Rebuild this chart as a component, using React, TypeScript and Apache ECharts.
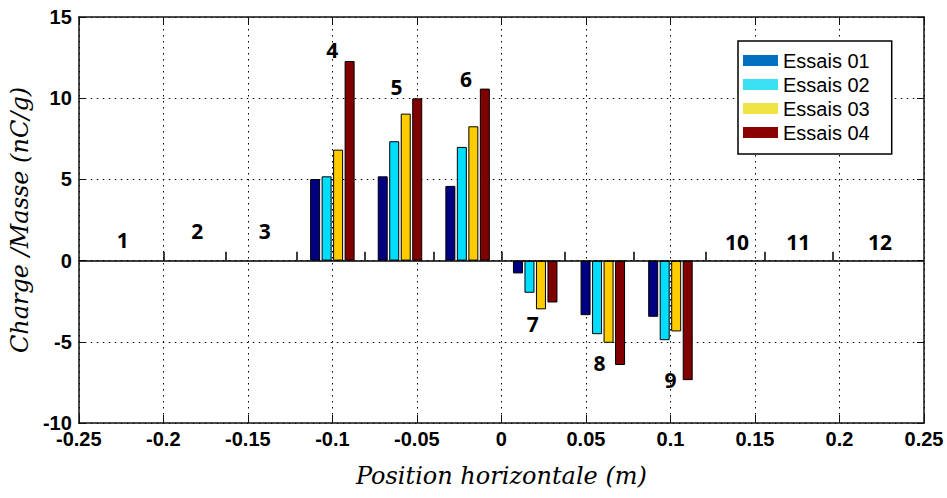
import React, { useEffect, useRef } from "react";
import * as echarts from "echarts";

// Group centre positions (m) for the groups that carry bars (4..9)
const groupPositions = [-0.1, -0.06, -0.02, 0.02, 0.06, 0.1];
const essais01 = [5.02, 5.19, 4.6, -0.79, -3.36, -3.46];
const essais02 = [5.19, 7.35, 7.0, -1.98, -4.53, -4.9];
const essais03 = [6.83, 9.05, 8.27, -3.0, -5.06, -4.36];
const essais04 = [12.29, 9.99, 10.59, -2.58, -6.43, -7.36];

const seriesNames = ["Essais 01", "Essais 02", "Essais 03", "Essais 04"];
const barColors = ["#000080", "#00DDFF", "#FFCC00", "#800000"];
const legendColors = ["#0070C0", "#3BE0F2", "#F0E442", "#8B0000"];

// Numbered position labels 1..12
const posLabels = ["1", "2", "3", "4", "5", "6", "7", "8", "9", "10", "11", "12"];
const posLabelX = [-0.224, -0.18, -0.14, -0.1, -0.062, -0.021, 0.0185, 0.058, 0.1, 0.1394, 0.1756, 0.224];
const posLabelY = [1.26, 1.82, 1.82, 12.96, 10.7, 11.18, -3.91, -6.31, -7.36, 1.16, 1.16, 1.16];

// small ticks on the zero line (group boundaries)
const zeroTicks = [-0.2, -0.163, -0.121, -0.081, -0.04, 0.0, 0.0375, 0.078, 0.121, 0.156, 0.196];

const xMin = -0.25;
const xMax = 0.25;
const xInterval = 0.05;
const yMin = -10;
const yMax = 15;
const yInterval = 5;

export default function App() {
  const ref = useRef<HTMLDivElement>(null);
  useEffect(() => {
    const chart = echarts.init(ref.current!, null, { renderer: "svg" });
    const allValues = [essais01, essais02, essais03, essais04];
    const axisLabelStyle = {
      fontFamily: "Liberation Sans",
      fontWeight: "bold" as const,
      fontSize: 20,
      color: "#000",
    };
    const frameLine = { show: true, onZero: false, lineStyle: { color: "#111", width: 1.5 } };
    const dotted = { show: true, lineStyle: { color: "#000", width: 1, type: [1.5, 4.5] as any } };
    const option: any = {
      animation: false,
      backgroundColor: "#fff",
      grid: { left: 77, top: 17, right: 23, bottom: 75, containLabel: false },
      legend: {
        orient: "vertical",
        left: 738,
        top: 41,
        padding: [8, 22, 10, 5],
        itemGap: 1,
        itemWidth: 35,
        itemHeight: 11,
        icon: "rect",
        borderColor: "#000",
        borderWidth: 1.5,
        backgroundColor: "#fff",
        textStyle: { fontFamily: "Liberation Sans", fontSize: 20, lineHeight: 23, color: "#000" },
        data: seriesNames.map((n, i) => ({
          name: n,
          itemStyle: { color: legendColors[i], borderWidth: 0 },
        })),
      },
      xAxis: [
        {
          type: "value",
          min: xMin,
          max: xMax,
          interval: xInterval,
          position: "bottom",
          axisLine: frameLine,
          axisTick: { show: true, inside: true, length: 8, lineStyle: { color: "#111" } },
          axisLabel: { ...axisLabelStyle, margin: 6 },
          splitLine: dotted,
          name: "Position horizontale (m)",
          nameLocation: "middle",
          nameGap: 41,
          nameTextStyle: { fontFamily: "DejaVu Serif", fontStyle: "italic", fontSize: 24, color: "#000" },
        },
        {
          type: "value",
          min: xMin,
          max: xMax,
          interval: xInterval,
          position: "top",
          axisLine: frameLine,
          axisTick: { show: true, inside: true, length: 8, lineStyle: { color: "#111" } },
          axisLabel: { show: false },
          splitLine: { show: false },
        },
      ],
      yAxis: [
        {
          type: "value",
          min: yMin,
          max: yMax,
          interval: yInterval,
          position: "left",
          axisLine: frameLine,
          axisTick: { show: true, inside: true, length: 7, lineStyle: { color: "#111" } },
          axisLabel: { ...axisLabelStyle, margin: 7 },
          splitLine: dotted,
          name: "Charge /Masse (nC/g)",
          nameLocation: "middle",
          nameGap: 42,
          nameTextStyle: { fontFamily: "DejaVu Serif", fontStyle: "italic", fontSize: 24, color: "#000" },
        },
        {
          type: "value",
          min: yMin,
          max: yMax,
          interval: yInterval,
          position: "right",
          axisLine: frameLine,
          axisTick: { show: true, inside: true, length: 7, lineStyle: { color: "#111" } },
          axisLabel: { show: false },
          splitLine: { show: false },
        },
      ],
      series: [
        ...seriesNames.map((n, i) => ({
          type: "bar",
          name: n,
          xAxisIndex: 0,
          yAxisIndex: 0,
          barWidth: 10,
          barGap: "15%",
          data: groupPositions.map((p, j) => [p, allValues[i][j]]),
          itemStyle: { color: barColors[i], borderColor: "#000", borderWidth: 1 },
          z: 3,
        })),
        {
          type: "scatter",
          name: "labels",
          xAxisIndex: 0,
          yAxisIndex: 0,
          symbolSize: 0,
          itemStyle: { color: "#000", opacity: 1 },
          data: posLabels.map((l, i) => ({ name: l, value: [posLabelX[i], posLabelY[i]] })),
          label: {
            show: true,
            position: "inside",
            formatter: "{b}",
            fontFamily: "Open Sans",
            fontWeight: "bold",
            fontSize: 21,
            color: "#000",
            opacity: 1,
          },
          emphasis: { disabled: true },
          z: 4,
          markLine: {
            silent: true,
            symbol: ["none", "none"],
            label: { show: false },
            lineStyle: { color: "#000", width: 1.5, type: "solid", opacity: 1 },
            data: [
              { yAxis: 0 },
              ...zeroTicks.map((x) => [{ coord: [x, 0] }, { coord: [x, 0.55] }]),
            ],
          },
        },
      ],
    };
    chart.setOption(option);
    return () => chart.dispose();
  }, []);
  return (
    <div
      ref={ref}
      style={{ position: "absolute", left: 0, top: 0, width: 947, height: 498 }}
    />
  );
}
